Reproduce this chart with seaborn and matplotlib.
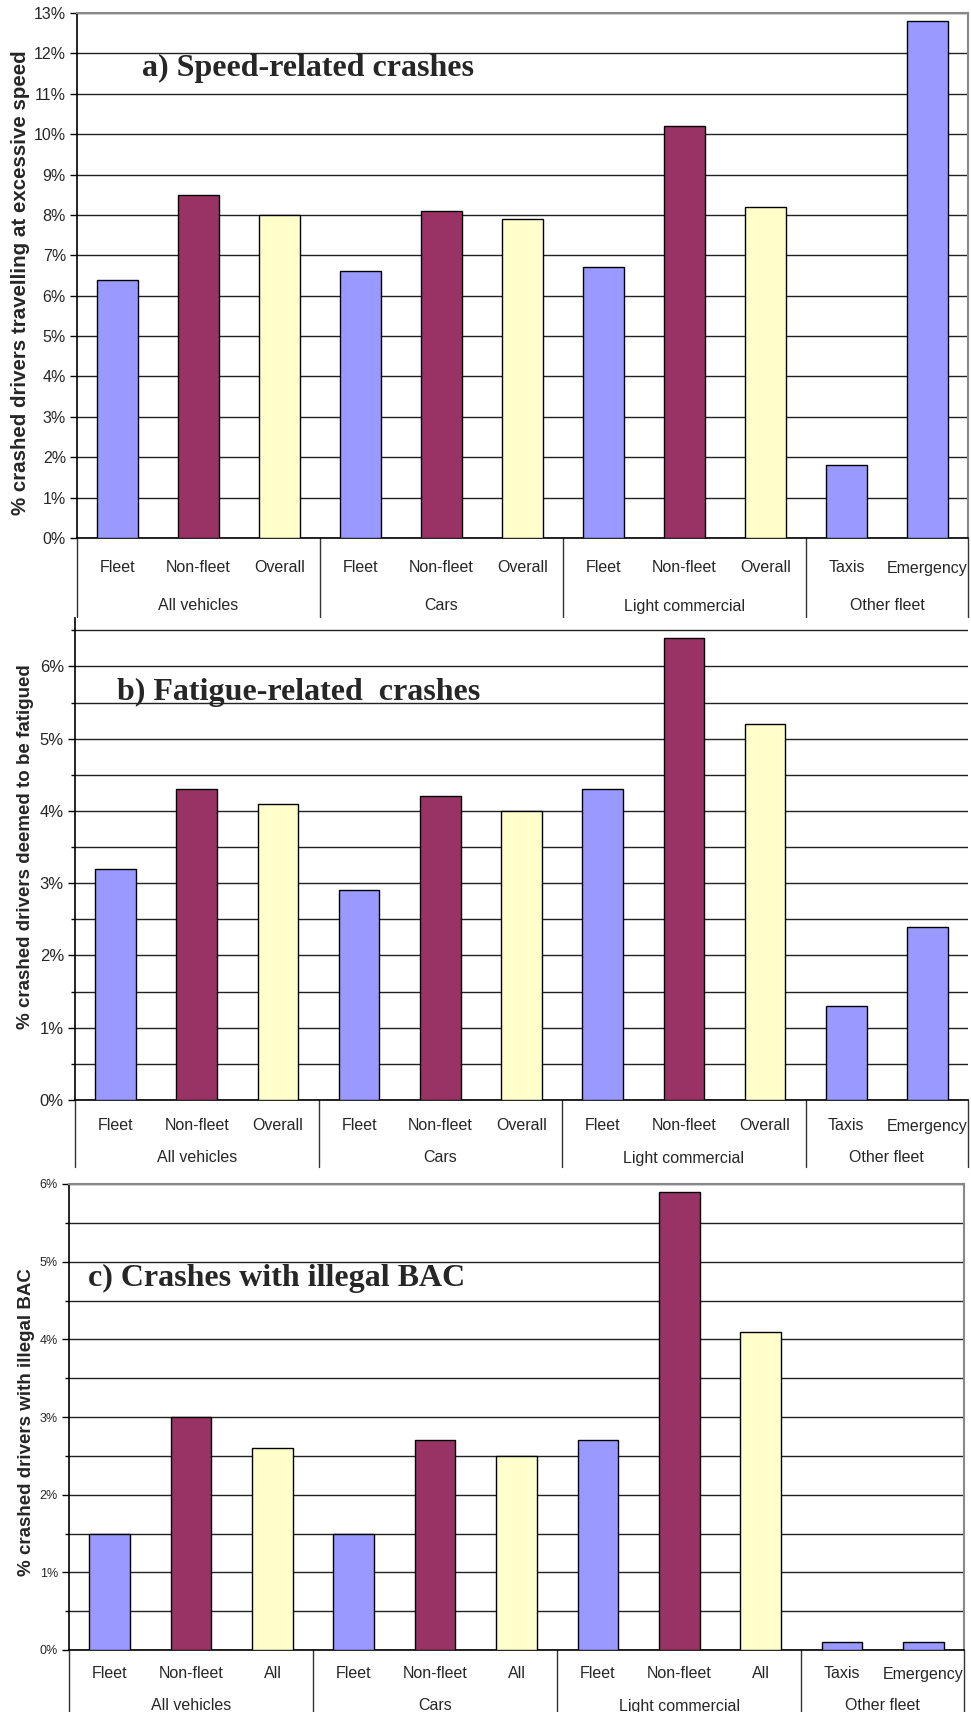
import matplotlib
matplotlib.use("Agg")
import matplotlib.pyplot as plt
import matplotlib.transforms as mtransforms
from matplotlib.ticker import MultipleLocator, FuncFormatter, NullFormatter
import seaborn as sns
import pandas as pd

# ---------------- data ----------------
groups = ["All vehicles", "Cars", "Light commercial", "Other fleet"]
sub_ab = [["Fleet", "Non-fleet", "Overall"], ["Fleet", "Non-fleet", "Overall"],
          ["Fleet", "Non-fleet", "Overall"], ["Taxis", "Emergency"]]
sub_c = [["Fleet", "Non-fleet", "All"], ["Fleet", "Non-fleet", "All"],
         ["Fleet", "Non-fleet", "All"], ["Taxis", "Emergency"]]
bar_types = ["Fleet", "Non-fleet", "Overall"] * 3 + ["Fleet", "Fleet"]
speed = [6.4, 8.5, 8.0, 6.6, 8.1, 7.9, 6.7, 10.2, 8.2, 1.8, 12.8]
fatigue = [3.2, 4.3, 4.1, 2.9, 4.2, 4.0, 4.3, 6.4, 5.2, 1.3, 2.4]
bac = [1.5, 3.0, 2.6, 1.5, 2.7, 2.5, 2.7, 5.9, 4.1, 0.1, 0.1]
palette = {"Fleet": "#9999FF", "Non-fleet": "#993366", "Overall": "#FFFFCC"}

W, H = 971, 1712
sns.set_style("white")
plt.rcParams["font.family"] = ["Liberation Sans", "DejaVu Sans"]

fig = plt.figure(figsize=(W / 100, H / 100), dpi=100)


def add_ax(left, top, right, bottom):
    return fig.add_axes([left / W, 1 - bottom / H, (right - left) / W, (bottom - top) / H])


def panel(ax, values, subs, ylim, grid_step, ylabel, title, title_px, tick_fs,
          sub_px, grp_px, sep_px, top_spine, right_spine, ylab_px, ylab_fs,
          ax_px, minor_ticks):
    left, top, right, bottom = ax_px
    slots, types = [], []
    k = 0
    for g, ss in zip(groups, subs):
        for s in ss:
            slots.append(f"{g}|{s}")
            types.append(bar_types[k])
            k += 1
    df = pd.DataFrame({"slot": slots, "value": values, "type": types})
    sns.barplot(data=df, x="slot", y="value", hue="type", order=slots,
                hue_order=["Fleet", "Non-fleet", "Overall"], palette=palette,
                dodge=False, width=0.5, edgecolor="black", linewidth=1.0,
                saturation=1, legend=False, ax=ax, zorder=3)
    ax.set_xlim(-0.5, len(slots) - 0.5)
    ax.set_ylim(*ylim)
    ax.set_axisbelow(True)
    ax.yaxis.set_major_locator(MultipleLocator(1))
    ax.yaxis.set_minor_locator(MultipleLocator(grid_step))
    ax.yaxis.set_major_formatter(FuncFormatter(lambda v, p: f"{int(round(v))}%"))
    ax.yaxis.set_minor_formatter(NullFormatter())
    ax.grid(axis="y", which="both", color="#222222", linewidth=1.0)
    ax.tick_params(axis="y", which="major", length=5, width=1, color="black",
                   labelsize=tick_fs, pad=3, direction="out", left=True)
    ax.tick_params(axis="y", which="minor", length=3 if minor_ticks else 0,
                   width=1, color="black", direction="out", left=minor_ticks)
    ax.tick_params(axis="x", length=0, labelbottom=False)
    ax.set_xlabel("")
    ax.set_ylabel(ylabel, fontsize=ylab_fs, fontweight="bold")
    ax.yaxis.label.set_va("center")
    ah = bottom - top
    aw = right - left
    ax.yaxis.set_label_coords((ylab_px[0] - left) / aw, (bottom - ylab_px[1]) / ah)
    for sp in ["left", "bottom"]:
        ax.spines[sp].set_color("black")
        ax.spines[sp].set_linewidth(1.2)
    ax.spines["top"].set_visible(top_spine)
    ax.spines["right"].set_visible(right_spine)
    ax.spines["top"].set_color("#888888")
    ax.spines["right"].set_color("#888888")
    ax.spines["top"].set_linewidth(1.5)
    ax.spines["right"].set_linewidth(1.5)

    tr = mtransforms.blended_transform_factory(ax.transData, ax.transAxes)
    k = 0
    seps = [-0.5]
    for g, ss in zip(groups, subs):
        start = k
        for s in ss:
            ax.text(k, -(sub_px - bottom) / ah, s, transform=tr, ha="center",
                    va="center", fontsize=11.5, clip_on=False)
            k += 1
        ax.text((start + k - 1) / 2, -(grp_px - bottom) / ah, g, transform=tr,
                ha="center", va="center", fontsize=11.5, clip_on=False)
        seps.append(k - 0.5)
    for s in seps:
        ax.plot([s, s], [0, -(sep_px - bottom) / ah], transform=tr, color="#333333",
                linewidth=1.0, clip_on=False)
    fig.text(title_px[0] / W, 1 - title_px[1] / H, title, family="Liberation Serif",
             fontweight="bold", fontsize=23, ha="left", va="center")


# panel a
pa = (77, 13, 968, 538)
axa = add_ax(*pa)
panel(axa, speed, sub_ab, (0, 13), 1, "% crashed drivers travelling at excessive speed",
      "a) Speed-related crashes", (142, 68), 11.5, 568, 606, 617, True, True,
      (21, 283), 14.8, pa, False)

# panel b
pb = (75, 618, 968, 1100)
axb = add_ax(*pb)
panel(axb, fatigue, sub_ab, (0, 6.67), 0.5, "% crashed drivers deemed to be fatigued",
      "b) Fatigue-related  crashes", (117, 692), 12, 1126, 1158, 1167, False, False,
      (25, 847), 13.5, pb, True)

# panel c
pc = (69, 1184, 964, 1650)
axc = add_ax(*pc)
panel(axc, bac, sub_c, (0, 6), 0.5, "% crashed drivers with illegal BAC",
      "c) Crashes with illegal BAC", (88, 1278), 9, 1674, 1706, 1712, True, True,
      (27, 1422), 13.5, pc, True)

fig.savefig("out.png", dpi=100)
